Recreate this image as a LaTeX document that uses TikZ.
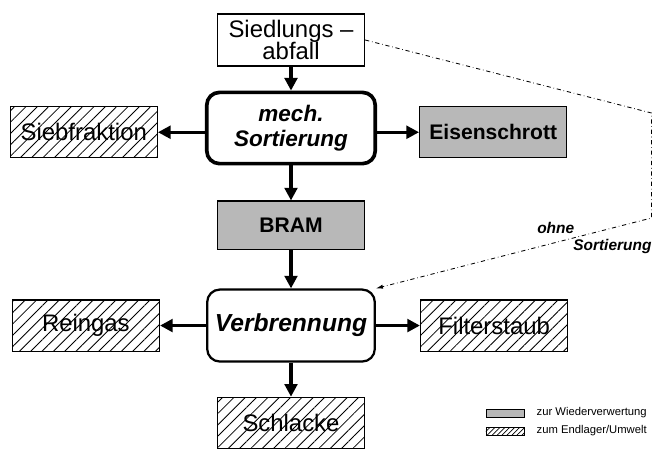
\documentclass[tikz,border=0pt]{standalone}
\usepackage{fontspec}
\setmainfont{Liberation Sans}
\usetikzlibrary{positioning,arrows.meta,patterns.meta}

\begin{document}
\begin{tikzpicture}[
  x=0.025cm,y=-0.025cm,
  box/.style={draw,line width=0.8pt,minimum width=3.68cm,minimum height=1.28cm,align=center,inner sep=1pt,font=\fontsize{17}{16}\selectfont},
  proc/.style={box,rounded corners=9pt,line width=2.6pt,minimum width=4.21cm,minimum height=1.78cm,font=\fontsize{16}{18}\bfseries\itshape\selectfont},
  reuse/.style={box,fill=black!28,font=\fontsize{15}{17}\bfseries\selectfont},
  waste/.style={box,pattern={Lines[angle=45,distance=5.7pt,line width=0.6pt]}},
  flow/.style={line width=2.4pt,-{Triangle[length=9pt,width=9pt]}},
  bypass/.style={dash dot,line width=0.6pt,-{Latex[length=5pt,width=3pt]}},
  key/.style={draw,line width=0.5pt,minimum width=0.95cm,minimum height=0.2cm,inner sep=0pt},
  keytext/.style={right=0.3cm of #1,font=\fontsize{8}{9}\selectfont,inner sep=0pt},
]
  \useasboundingbox (0,0) rectangle (653,450);

  % main column
  \node[box,minimum height=1.3cm] (abfall) at (291,40) {Siedlungs –\\abfall};
  \node[proc,below=0.6cm of abfall] (sort) {mech.\\Sortierung};
  \node[reuse,below=0.875cm of sort,minimum height=1.22cm] (bram) {BRAM};
  \node[proc,below=0.95cm of bram,line width=1.6pt,minimum width=4.19cm,minimum height=1.8cm,font=\fontsize{17.5}{19}\bfseries\itshape\selectfont] (verb) {Verbrennung};
  \node[waste,below=0.85cm of verb] (schlacke) {Schlacke};

  % side products
  \node[waste,left=1.175cm of sort,yshift=-3pt] (sieb) {Siebfraktion};
  \node[reuse,right=1.05cm of sort,yshift=-3pt] (eisen) {Eisenschrott};
  \node[waste,left=1.15cm of verb] (reingas) {Reingas};
  \node[waste,right=1.1cm of verb] (filter) {Filterstaub};

  \draw[flow] (abfall) -- (sort);
  \draw[flow] (sort) -- (bram);
  \draw[flow] (bram) -- (verb);
  \draw[flow] (verb) -- (schlacke);
  \draw[flow] (sort.west |- sieb) -- (sieb);
  \draw[flow] (sort.east |- eisen) -- (eisen);
  \draw[flow] (verb) -- (reingas);
  \draw[flow] (verb) -- (filter);

  % bypass without sorting
  \coordinate (bendtop) at (651.5,113);
  \coordinate (bendbot) at (651.5,218);
  \draw[bypass] (abfall.east) -- (bendtop) -- (bendbot) -- (verb.north east);
  \node[anchor=north west,align=left,inner sep=0pt,font=\fontsize{11}{12}\bfseries\itshape\selectfont] (ohne) at (537,222) {ohne\\\hspace*{0.9cm}Sortierung};

  % legend
  \node[key,fill=black!28] (keyreuse) at (505,413) {};
  \node[keytext=keyreuse] (txtreuse) {zur Wiederverwertung};
  \node[key,pattern={Lines[angle=45,distance=2.5pt,line width=0.5pt]}] (keywaste) at (505,431) {};
  \node[keytext=keywaste] (txtwaste) {zum Endlager/Umwelt};
\end{tikzpicture}
\end{document}
